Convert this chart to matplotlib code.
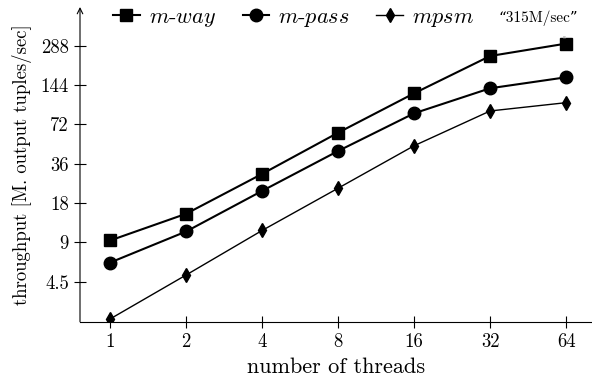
import numpy as np
import matplotlib
matplotlib.use("Agg")
import matplotlib.pyplot as plt

plt.rcParams['font.family'] = 'serif'
plt.rcParams['font.serif'] = ['cmr10', 'DejaVu Serif']
plt.rcParams['mathtext.fontset'] = 'cm'
plt.rcParams['axes.formatter.use_mathtext'] = True

"""DATA"""
threads = [1, 2, 4, 8, 16, 32, 64]
mway = [9.3, 14.9, 30.1, 62.3, 124.8, 241, 300]
mpass = [6.3, 10.9, 22.3, 45.1, 87.7, 136.4, 165.6]
mpsm = [2.33, 5.06, 11.1, 23.4, 49.5, 91.4, 105.8]
yticks = [4.5, 9, 18, 36, 72, 144, 288]
ytick_labels = ['4.5', '9', '18', '36', '72', '144', '288']

"""PLOTTING"""
fig = plt.figure(figsize=(5.92, 3.76), dpi=100)
ax = fig.add_axes([80/592, 1-321.7/376, 512/592, 314.7/376])

ax.plot(threads, mway, '-s', color='black', lw=1.5, ms=8.5, label=r'$m$-$way$')
ax.plot(threads, mpass, '-o', color='black', lw=1.5, ms=9, label=r'$m$-$pass$')
ax.plot(threads, mpsm, '-d', color='black', lw=1.0, ms=7.5, label=r'$mpsm$')

ax.set_xscale('log', base=2)
ax.set_yscale('log', base=2)
ax.set_xlim(0.76, 81)
ax.set_ylim(2.22, 572)

ax.set_xticks(threads)
ax.set_xticklabels([str(t) for t in threads])
ax.set_yticks(yticks)
ax.set_yticklabels(ytick_labels)
ax.minorticks_off()
ax.tick_params(direction='inout', length=8, width=0.8, labelsize=13.5, pad=4)

for s in ['top', 'right', 'left']:
    ax.spines[s].set_visible(False)
ax.spines['bottom'].set_linewidth(0.8)
ax.annotate('', xy=(0, 1.0), xytext=(0, 0), xycoords='axes fraction',
            arrowprops=dict(arrowstyle='->', lw=0.8, color='black',
                            shrinkA=0, shrinkB=0))

ax.set_xlabel('number of threads', fontsize=16, labelpad=5)
ax.set_ylabel('throughput [M. output tuples/sec]', fontsize=13.5, labelpad=6)

fig.legend(loc='center left', bbox_to_anchor=(113/592, 1-18/376), ncol=3,
           frameon=False, fontsize=16, handlelength=1.2, columnspacing=1.2,
           handletextpad=0.4, borderpad=0, borderaxespad=0)

fig.text(538/592, 1-18/376, '\u201c315M/sec\u201d', ha='center', va='center',
         fontsize=11, family=['cmr10', 'DejaVu Serif'])
fig.text(565/592, 1-37/376, 'r.', ha='center', va='center', fontsize=5,
         color='gray')

fig.savefig('out.png', dpi=100)
